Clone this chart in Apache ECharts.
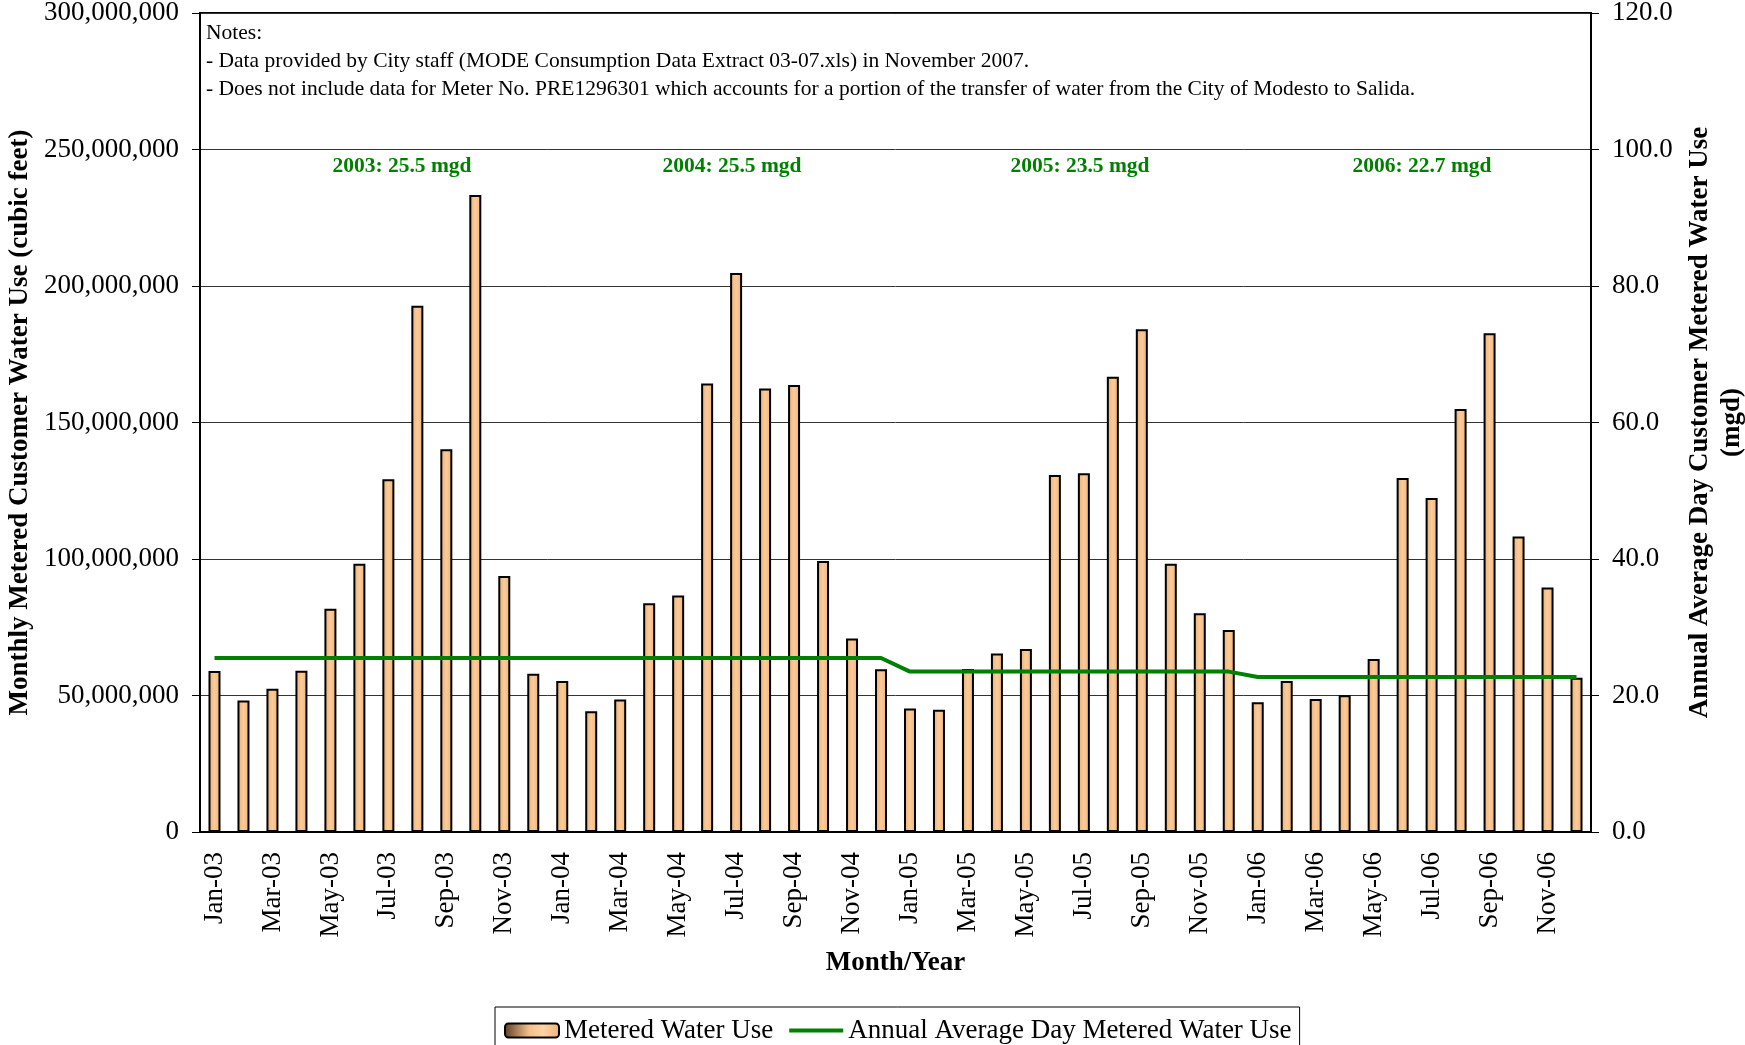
<!DOCTYPE html>
<html>
<head>
<meta charset="utf-8">
<script src="https://cdn.jsdelivr.net/npm/echarts@6/dist/echarts.min.js"></script>
<style>
  html, body { margin: 0; padding: 0; background: #fff; }
  #chart { width: 1745px; height: 1045px; }
</style>
</head>
<body>
<div id="chart"></div>
<script>
const months = [
  "Jan-03", "Feb-03", "Mar-03", "Apr-03", "May-03", "Jun-03", "Jul-03", "Aug-03", "Sep-03", "Oct-03", "Nov-03", "Dec-03",
  "Jan-04", "Feb-04", "Mar-04", "Apr-04", "May-04", "Jun-04", "Jul-04", "Aug-04", "Sep-04", "Oct-04", "Nov-04", "Dec-04",
  "Jan-05", "Feb-05", "Mar-05", "Apr-05", "May-05", "Jun-05", "Jul-05", "Aug-05", "Sep-05", "Oct-05", "Nov-05", "Dec-05",
  "Jan-06", "Feb-06", "Mar-06", "Apr-06", "May-06", "Jun-06", "Jul-06", "Aug-06", "Sep-06", "Oct-06", "Nov-06", "Dec-06",
];

// monthly metered use, cubic feet
const meteredUse = [
  59000000, 48200000, 52500000, 59100000, 81800000, 98300000, 129200000, 192800000, 140200000, 233300000, 93800000, 58000000,
  55300000, 44200000, 48500000, 83800000, 86600000, 164300000, 204800000, 162500000, 163700000, 99300000, 70900000, 59600000,
  45200000, 44800000, 59700000, 65400000, 67000000, 130800000, 131400000, 166800000, 184200000, 98300000, 80100000, 74000000,
  47500000, 55300000, 48700000, 50100000, 63400000, 129700000, 122300000, 154900000, 182700000, 108200000, 89600000, 56500000,
];

// annual average day use, mgd (one value per month)
const annualAvgLine = [
  25.5, 25.5, 25.5, 25.5, 25.5, 25.5, 25.5, 25.5, 25.5, 25.5, 25.5, 25.5,
  25.5, 25.5, 25.5, 25.5, 25.5, 25.5, 25.5, 25.5, 25.5, 25.5, 25.5, 25.5,
  23.5, 23.5, 23.5, 23.5, 23.5, 23.5, 23.5, 23.5, 23.5, 23.5, 23.5, 23.5,
  22.7, 22.7, 22.7, 22.7, 22.7, 22.7, 22.7, 22.7, 22.7, 22.7, 22.7, 22.7,
];

const yearLabels = ["2003: 25.5 mgd", "2004: 25.5 mgd", "2005: 23.5 mgd", "2006: 22.7 mgd"];

const notes = [
  "Notes:",
  "- Data provided by City staff (MODE Consumption Data Extract 03-07.xls) in November 2007.",
  "- Does not include data for Meter No. PRE1296301 which accounts for a portion of the transfer of water from the City of Modesto to Salida.",
];

const FONT = "'Liberation Serif', 'Times New Roman', serif";
const GREEN = "#008000";

const barFill = new echarts.graphic.LinearGradient(0, 0, 1, 0, [
  { offset: 0, color: "#e6ad76" },
  { offset: 0.5, color: "#fdcb98" },
  { offset: 1, color: "#e9b27c" },
]);
const legendBarFill = new echarts.graphic.LinearGradient(0, 0, 1, 0, [
  { offset: 0, color: "#5c3d24" },
  { offset: 0.45, color: "#f3bf8c" },
  { offset: 0.7, color: "#ffd3a3" },
  { offset: 1, color: "#e9b27c" },
]);

const yearX = [402, 732, 1080, 1422];

const chart = echarts.init(document.getElementById("chart"));
chart.setOption({
  animation: false,
  backgroundColor: "#fff",
  textStyle: { fontFamily: FONT, color: "#000" },
  grid: {
    left: 200,
    right: 154,
    top: 13,
    bottom: 213,
    show: true,
    borderColor: "#000",
    borderWidth: 2,
    outerBoundsMode: "none",
    containLabel: false,
  },
  legend: {
    left: 495,
    top: 1007,
    padding: [10, 8, 12, 9],
    borderColor: "#000",
    borderWidth: 1,
    itemWidth: 54,
    itemHeight: 14,
    itemGap: 14,
    textStyle: { fontFamily: FONT, fontSize: 27, color: "#000" },
    data: [
      {
        name: "Metered Water Use",
        itemStyle: { color: legendBarFill, borderColor: "#000", borderWidth: 2 },
      },
      {
        name: "Annual Average Day Metered Water Use",
        itemStyle: { opacity: 0 },
        lineStyle: { color: GREEN, width: 4 },
      },
    ],
  },
  xAxis: {
    type: "category",
    data: months,
    name: "Month/Year",
    nameLocation: "middle",
    nameGap: 118,
    nameTextStyle: { fontFamily: FONT, fontSize: 27, fontWeight: "bold", color: "#000" },
    axisLine: { lineStyle: { color: "#000", width: 2 } },
    axisTick: { interval: 1, length: 8, lineStyle: { color: "#000" } },
    axisLabel: {
      interval: 1,
      rotate: 90,
      margin: 20,
      fontFamily: FONT,
      fontSize: 27,
      color: "#000",
    },
  },
  yAxis: [
    {
      type: "value",
      min: 0,
      max: 300000000,
      interval: 50000000,
      name: "Monthly Metered Customer Water Use (cubic feet)",
      nameLocation: "middle",
      nameGap: 166,
      nameRotate: 90,
      nameTextStyle: { fontFamily: FONT, fontSize: 27, fontWeight: "bold", color: "#000" },
      axisLine: { show: true, lineStyle: { color: "#000", width: 2 } },
      axisTick: { show: true, length: 8, lineStyle: { color: "#000" } },
      axisLabel: {
        margin: 21,
        fontFamily: FONT,
        fontSize: 27,
        color: "#000",
        formatter: (v) => v.toLocaleString("en-US"),
      },
      splitLine: { show: true, lineStyle: { color: "#333", width: 1 } },
    },
    {
      type: "value",
      min: 0,
      max: 120,
      interval: 20,
      position: "right",
      name: "Annual Average Day Customer Metered Water Use\n(mgd)",
      nameLocation: "middle",
      nameGap: 92,
      nameRotate: 90,
      nameTextStyle: {
        fontFamily: FONT,
        fontSize: 27,
        fontWeight: "bold",
        color: "#000",
        lineHeight: 32,
        align: "center",
      },
      axisLine: { show: true, lineStyle: { color: "#000", width: 2 } },
      axisTick: { show: true, length: 8, lineStyle: { color: "#000" } },
      axisLabel: {
        margin: 21,
        fontFamily: FONT,
        fontSize: 27,
        color: "#000",
        formatter: (v) => v.toFixed(1),
      },
      splitLine: { show: false },
    },
  ],
  series: [
    {
      name: "Metered Water Use",
      type: "bar",
      data: meteredUse,
      barWidth: 12,
      itemStyle: { color: barFill, borderColor: "#000", borderWidth: 2 },
      yAxisIndex: 0,
    },
    {
      name: "Annual Average Day Metered Water Use",
      type: "line",
      data: annualAvgLine,
      yAxisIndex: 1,
      symbol: "none",
      lineStyle: { color: GREEN, width: 4 },
      itemStyle: { color: GREEN },
      z: 5,
    },
  ],
  graphic: [
    {
      type: "text",
      left: 206,
      top: 19,
      style: {
        text: notes.join("\n"),
        font: "21.5px " + FONT,
        lineHeight: 28,
        fill: "#000",
      },
    },
  ].concat(
    yearLabels.map((t, i) => ({
      type: "text",
      x: yearX[i],
      y: 166,
      style: {
        text: t,
        font: "bold 21.5px " + FONT,
        fill: GREEN,
        align: "center",
        verticalAlign: "middle",
      },
    }))
  ),
});
</script>
</body>
</html>
